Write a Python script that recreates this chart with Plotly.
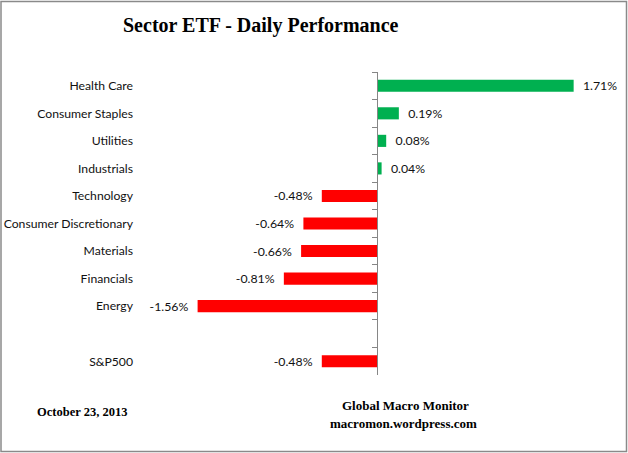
import plotly.graph_objects as go

categories = ["Health Care", "Consumer Staples", "Utilities", "Industrials", "Technology",
              "Consumer Discretionary", "Materials", "Financials", "Energy", " ", "S&P500"]
values = [1.71, 0.19, 0.08, 0.04, -0.48, -0.64, -0.66, -0.81, -1.56, None, -0.48]

title_text = "Sector ETF - Daily Performance"
date_text = "October 23, 2013"
source_lines = ["Global Macro Monitor", "macromon.wordpress.com"]

W, H = 628, 453
L, R, T, B = 147, 21, 72, 78
PW, PH = W - L - R, H - T - B

def px(x):
    return (x - L) / PW

def py(y):
    return (H - B - y) / PH

cats = [c for c, v in zip(categories, values) if v is not None]
vals = [v for v in values if v is not None]
colors = ["#00B050" if v >= 0 else "#FF0000" for v in vals]
texts = [("\u00a0\u00a0" + f"{v:.2f}%") if v >= 0 else (f"{v:.2f}%" + "\u00a0\u00a0") for v in vals]

fig = go.Figure()
fig.add_trace(go.Bar(
    x=vals, y=cats, orientation="h", marker=dict(color=colors, line=dict(width=0)),
    width=0.44, text=texts, textposition="outside", cliponaxis=False, constraintext="none",
    textfont=dict(family="Lato", size=12.3, color="#111111"),
    hoverinfo="skip", showlegend=False, yaxis="y"))
fig.add_trace(go.Bar(
    x=[0] * len(categories), y=categories, orientation="h", marker=dict(opacity=0),
    hoverinfo="skip", showlegend=False, yaxis="y2"))

fig.update_layout(
    template="none",
    width=W, height=H, margin=dict(l=L, r=R, t=T, b=B, autoexpand=False),
    paper_bgcolor="white", plot_bgcolor="white",
    xaxis=dict(range=[-2, 2], showgrid=False, zeroline=False, showticklabels=False,
               showline=False, ticks="", fixedrange=True, automargin=False),
    yaxis=dict(type="category", categoryorder="array", categoryarray=categories,
               range=[len(categories) - 0.5, -0.5], showgrid=False, zeroline=False,
               showline=False, ticks="", ticklabelstandoff=13, fixedrange=True,
               automargin=False,
               tickfont=dict(family="Lato", size=12.2, color="#111111")),
    yaxis2=dict(type="category", categoryorder="array", categoryarray=categories,
                range=[len(categories) - 0.5, -0.5], overlaying="y", anchor="free",
                position=px(377), side="left", showgrid=False, zeroline=False,
                showline=True, linecolor="#868686", linewidth=1, fixedrange=True,
                automargin=False,
                ticks="outside", ticklen=5, tickcolor="#868686", tickson="boundaries",
                showticklabels=False),
    bargap=0.56,
    shapes=[dict(type="rect", xref="paper", yref="paper",
                 x0=px(1), x1=px(626.5), y0=py(451.5), y1=py(1.5),
                 line=dict(color="#8a8a8a", width=1.5), fillcolor="rgba(0,0,0,0)")],
    annotations=[
        dict(text=f"<b>{title_text}</b>", x=px(261), y=py(26), xref="paper", yref="paper",
             xanchor="center", yanchor="middle", showarrow=False,
             font=dict(family="Liberation Serif", size=20, color="#000000")),
        dict(text=f"<b>{date_text}</b>", x=px(35), y=py(412), xref="paper", yref="paper",
             xanchor="left", yanchor="middle", showarrow=False,
             font=dict(family="Liberation Serif", size=12.5, color="#000000")),
        dict(text=f"<b>{source_lines[0]}</b>", x=px(405), y=py(405), xref="paper", yref="paper",
             xanchor="center", yanchor="middle", showarrow=False,
             font=dict(family="Liberation Serif", size=13, color="#000000")),
        dict(text=f"<b>{source_lines[1]}</b>", x=px(403), y=py(423), xref="paper", yref="paper",
             xanchor="center", yanchor="middle", showarrow=False,
             font=dict(family="Liberation Serif", size=13, color="#000000")),
    ],
)

fig.write_html(
    "out.html",
    config={"displayModeBar": False, "staticPlot": True},
    post_script=("document.documentElement.style.margin='0';"
                 "document.documentElement.style.overflow='hidden';"
                 "document.body.style.margin='0';document.body.style.padding='0';"
                 "document.body.style.overflow='hidden';"),
)
